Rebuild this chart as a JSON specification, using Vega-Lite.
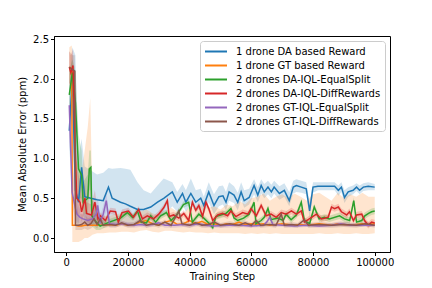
{
 "$schema": "https://vega.github.io/schema/vega-lite/v6.json",
 "width": 336, "height": 216,
 "autosize": {"type": "none"},
 "padding": {"left": 54, "top": 36, "right": 42, "bottom": 36},
 "config": {"font": "DejaVu Sans", "view": {"stroke": "black", "strokeWidth": 1},
  "axis": {"grid": false, "domainColor": "black", "tickColor": "black", "labelColor": "black", "titleColor": "black", "labelFontSize": 10, "titleFontSize": 10, "titleFontWeight": "normal", "tickSize": 3.5, "labelPadding": 2, "domainWidth": 1, "tickWidth": 1}},
 "data": {"values": [
{"series":"1 drone DA based Reward","step":1000,"mae":1.35,"lo":1.0,"hi":1.9},
{"series":"1 drone DA based Reward","step":2000,"mae":2.0,"lo":1.6,"hi":2.4},
{"series":"1 drone DA based Reward","step":3000,"mae":0.6,"lo":0.2,"hi":2.3},
{"series":"1 drone DA based Reward","step":4000,"mae":0.45,"lo":0.15,"hi":1.0},
{"series":"1 drone DA based Reward","step":5000,"mae":0.89,"lo":0.5,"hi":1.25},
{"series":"1 drone DA based Reward","step":6000,"mae":0.52,"lo":0.2,"hi":0.9},
{"series":"1 drone DA based Reward","step":8000,"mae":0.5,"lo":0.15,"hi":0.85},
{"series":"1 drone DA based Reward","step":10000,"mae":0.48,"lo":0.15,"hi":0.8},
{"series":"1 drone DA based Reward","step":12000,"mae":0.47,"lo":0.15,"hi":0.82},
{"series":"1 drone DA based Reward","step":13700,"mae":0.64,"lo":0.2,"hi":0.88},
{"series":"1 drone DA based Reward","step":14900,"mae":0.5,"lo":0.18,"hi":0.87},
{"series":"1 drone DA based Reward","step":17600,"mae":0.45,"lo":0.17,"hi":0.88},
{"series":"1 drone DA based Reward","step":19200,"mae":0.43,"lo":0.15,"hi":0.87},
{"series":"1 drone DA based Reward","step":20800,"mae":0.4,"lo":0.16,"hi":0.86},
{"series":"1 drone DA based Reward","step":23100,"mae":0.36,"lo":0.18,"hi":0.7},
{"series":"1 drone DA based Reward","step":25100,"mae":0.36,"lo":0.2,"hi":0.6},
{"series":"1 drone DA based Reward","step":27400,"mae":0.39,"lo":0.22,"hi":0.56},
{"series":"1 drone DA based Reward","step":29600,"mae":0.45,"lo":0.25,"hi":0.66},
{"series":"1 drone DA based Reward","step":31600,"mae":0.5,"lo":0.28,"hi":0.75},
{"series":"1 drone DA based Reward","step":34400,"mae":0.58,"lo":0.4,"hi":0.7},
{"series":"1 drone DA based Reward","step":36000,"mae":0.45,"lo":0.33,"hi":0.58},
{"series":"1 drone DA based Reward","step":37700,"mae":0.56,"lo":0.42,"hi":0.68},
{"series":"1 drone DA based Reward","step":38800,"mae":0.45,"lo":0.33,"hi":0.6},
{"series":"1 drone DA based Reward","step":40400,"mae":0.56,"lo":0.42,"hi":0.75},
{"series":"1 drone DA based Reward","step":42000,"mae":0.45,"lo":0.33,"hi":0.6},
{"series":"1 drone DA based Reward","step":43600,"mae":0.5,"lo":0.38,"hi":0.62},
{"series":"1 drone DA based Reward","step":44600,"mae":0.41,"lo":0.3,"hi":0.52},
{"series":"1 drone DA based Reward","step":46200,"mae":0.58,"lo":0.45,"hi":0.7},
{"series":"1 drone DA based Reward","step":47900,"mae":0.41,"lo":0.3,"hi":0.55},
{"series":"1 drone DA based Reward","step":49500,"mae":0.52,"lo":0.4,"hi":0.65},
{"series":"1 drone DA based Reward","step":50800,"mae":0.53,"lo":0.42,"hi":0.66},
{"series":"1 drone DA based Reward","step":51800,"mae":0.45,"lo":0.35,"hi":0.58},
{"series":"1 drone DA based Reward","step":52800,"mae":0.58,"lo":0.47,"hi":0.7},
{"series":"1 drone DA based Reward","step":54400,"mae":0.54,"lo":0.44,"hi":0.65},
{"series":"1 drone DA based Reward","step":55600,"mae":0.45,"lo":0.35,"hi":0.57},
{"series":"1 drone DA based Reward","step":56700,"mae":0.58,"lo":0.48,"hi":0.7},
{"series":"1 drone DA based Reward","step":57700,"mae":0.47,"lo":0.38,"hi":0.6},
{"series":"1 drone DA based Reward","step":59300,"mae":0.51,"lo":0.42,"hi":0.62},
{"series":"1 drone DA based Reward","step":60900,"mae":0.66,"lo":0.55,"hi":0.74},
{"series":"1 drone DA based Reward","step":62100,"mae":0.54,"lo":0.45,"hi":0.64},
{"series":"1 drone DA based Reward","step":63200,"mae":0.66,"lo":0.56,"hi":0.74},
{"series":"1 drone DA based Reward","step":64200,"mae":0.58,"lo":0.5,"hi":0.68},
{"series":"1 drone DA based Reward","step":65400,"mae":0.64,"lo":0.55,"hi":0.72},
{"series":"1 drone DA based Reward","step":66500,"mae":0.58,"lo":0.5,"hi":0.67},
{"series":"1 drone DA based Reward","step":67400,"mae":0.64,"lo":0.56,"hi":0.72},
{"series":"1 drone DA based Reward","step":69100,"mae":0.56,"lo":0.48,"hi":0.65},
{"series":"1 drone DA based Reward","step":70700,"mae":0.6,"lo":0.52,"hi":0.69},
{"series":"1 drone DA based Reward","step":72300,"mae":0.47,"lo":0.4,"hi":0.58},
{"series":"1 drone DA based Reward","step":73600,"mae":0.64,"lo":0.56,"hi":0.72},
{"series":"1 drone DA based Reward","step":74600,"mae":0.66,"lo":0.58,"hi":0.74},
{"series":"1 drone DA based Reward","step":76200,"mae":0.64,"lo":0.57,"hi":0.72},
{"series":"1 drone DA based Reward","step":77800,"mae":0.62,"lo":0.55,"hi":0.7},
{"series":"1 drone DA based Reward","step":78900,"mae":0.34,"lo":0.25,"hi":0.45},
{"series":"1 drone DA based Reward","step":80000,"mae":0.64,"lo":0.57,"hi":0.7},
{"series":"1 drone DA based Reward","step":81600,"mae":0.65,"lo":0.6,"hi":0.7},
{"series":"1 drone DA based Reward","step":84000,"mae":0.65,"lo":0.6,"hi":0.7},
{"series":"1 drone DA based Reward","step":87000,"mae":0.65,"lo":0.6,"hi":0.7},
{"series":"1 drone DA based Reward","step":88200,"mae":0.6,"lo":0.53,"hi":0.66},
{"series":"1 drone DA based Reward","step":89200,"mae":0.64,"lo":0.58,"hi":0.7},
{"series":"1 drone DA based Reward","step":90200,"mae":0.51,"lo":0.44,"hi":0.6},
{"series":"1 drone DA based Reward","step":91400,"mae":0.58,"lo":0.52,"hi":0.64},
{"series":"1 drone DA based Reward","step":93000,"mae":0.6,"lo":0.55,"hi":0.66},
{"series":"1 drone DA based Reward","step":94100,"mae":0.64,"lo":0.59,"hi":0.69},
{"series":"1 drone DA based Reward","step":95100,"mae":0.6,"lo":0.55,"hi":0.66},
{"series":"1 drone DA based Reward","step":96300,"mae":0.64,"lo":0.59,"hi":0.69},
{"series":"1 drone DA based Reward","step":97900,"mae":0.65,"lo":0.6,"hi":0.7},
{"series":"1 drone DA based Reward","step":100000,"mae":0.64,"lo":0.6,"hi":0.68},
{"series":"1 drone GT based Reward","step":1000,"mae":2.15,"lo":1.95,"hi":2.4},
{"series":"1 drone GT based Reward","step":1800,"mae":2.13,"lo":1.8,"hi":2.42},
{"series":"1 drone GT based Reward","step":2000,"mae":0.16,"lo":-0.05,"hi":2.3},
{"series":"1 drone GT based Reward","step":3000,"mae":0.16,"lo":-0.05,"hi":1.0},
{"series":"1 drone GT based Reward","step":4000,"mae":0.15,"lo":-0.05,"hi":0.9},
{"series":"1 drone GT based Reward","step":5000,"mae":0.15,"lo":-0.03,"hi":0.8},
{"series":"1 drone GT based Reward","step":6000,"mae":0.16,"lo":0.0,"hi":1.1},
{"series":"1 drone GT based Reward","step":7000,"mae":0.16,"lo":0.0,"hi":1.4},
{"series":"1 drone GT based Reward","step":7800,"mae":0.16,"lo":0.02,"hi":1.76},
{"series":"1 drone GT based Reward","step":8500,"mae":0.16,"lo":0.04,"hi":0.5},
{"series":"1 drone GT based Reward","step":10000,"mae":0.16,"lo":0.06,"hi":0.32},
{"series":"1 drone GT based Reward","step":12000,"mae":0.16,"lo":0.06,"hi":0.28},
{"series":"1 drone GT based Reward","step":14000,"mae":0.17,"lo":0.07,"hi":0.28},
{"series":"1 drone GT based Reward","step":16000,"mae":0.16,"lo":0.07,"hi":0.3},
{"series":"1 drone GT based Reward","step":18000,"mae":0.18,"lo":0.08,"hi":0.31},
{"series":"1 drone GT based Reward","step":20000,"mae":0.16,"lo":0.08,"hi":0.33},
{"series":"1 drone GT based Reward","step":22000,"mae":0.17,"lo":0.07,"hi":0.28},
{"series":"1 drone GT based Reward","step":24000,"mae":0.2,"lo":0.09,"hi":0.33},
{"series":"1 drone GT based Reward","step":26000,"mae":0.22,"lo":0.1,"hi":0.36},
{"series":"1 drone GT based Reward","step":28000,"mae":0.18,"lo":0.08,"hi":0.31},
{"series":"1 drone GT based Reward","step":30000,"mae":0.16,"lo":0.07,"hi":0.28},
{"series":"1 drone GT based Reward","step":32000,"mae":0.2,"lo":0.09,"hi":0.33},
{"series":"1 drone GT based Reward","step":34000,"mae":0.22,"lo":0.09,"hi":0.38},
{"series":"1 drone GT based Reward","step":36000,"mae":0.17,"lo":0.08,"hi":0.33},
{"series":"1 drone GT based Reward","step":38000,"mae":0.18,"lo":0.07,"hi":0.3},
{"series":"1 drone GT based Reward","step":40000,"mae":0.22,"lo":0.08,"hi":0.4},
{"series":"1 drone GT based Reward","step":42000,"mae":0.18,"lo":0.07,"hi":0.36},
{"series":"1 drone GT based Reward","step":44000,"mae":0.21,"lo":0.07,"hi":0.42},
{"series":"1 drone GT based Reward","step":46000,"mae":0.17,"lo":0.06,"hi":0.38},
{"series":"1 drone GT based Reward","step":48000,"mae":0.18,"lo":0.07,"hi":0.4},
{"series":"1 drone GT based Reward","step":50000,"mae":0.16,"lo":0.06,"hi":0.36},
{"series":"1 drone GT based Reward","step":52000,"mae":0.18,"lo":0.06,"hi":0.42},
{"series":"1 drone GT based Reward","step":54000,"mae":0.17,"lo":0.06,"hi":0.4},
{"series":"1 drone GT based Reward","step":56000,"mae":0.2,"lo":0.06,"hi":0.47},
{"series":"1 drone GT based Reward","step":58000,"mae":0.17,"lo":0.05,"hi":0.42},
{"series":"1 drone GT based Reward","step":60000,"mae":0.18,"lo":0.06,"hi":0.5},
{"series":"1 drone GT based Reward","step":62000,"mae":0.17,"lo":0.05,"hi":0.52},
{"series":"1 drone GT based Reward","step":64000,"mae":0.18,"lo":0.06,"hi":0.56},
{"series":"1 drone GT based Reward","step":66000,"mae":0.16,"lo":0.05,"hi":0.47},
{"series":"1 drone GT based Reward","step":68000,"mae":0.17,"lo":0.06,"hi":0.52},
{"series":"1 drone GT based Reward","step":70000,"mae":0.18,"lo":0.05,"hi":0.55},
{"series":"1 drone GT based Reward","step":72000,"mae":0.17,"lo":0.05,"hi":0.5},
{"series":"1 drone GT based Reward","step":74000,"mae":0.16,"lo":0.05,"hi":0.56},
{"series":"1 drone GT based Reward","step":76000,"mae":0.17,"lo":0.05,"hi":0.52},
{"series":"1 drone GT based Reward","step":78000,"mae":0.16,"lo":0.05,"hi":0.47},
{"series":"1 drone GT based Reward","step":80000,"mae":0.17,"lo":0.05,"hi":0.55},
{"series":"1 drone GT based Reward","step":82000,"mae":0.18,"lo":0.06,"hi":0.57},
{"series":"1 drone GT based Reward","step":84000,"mae":0.17,"lo":0.05,"hi":0.52},
{"series":"1 drone GT based Reward","step":86000,"mae":0.16,"lo":0.05,"hi":0.47},
{"series":"1 drone GT based Reward","step":88000,"mae":0.18,"lo":0.06,"hi":0.57},
{"series":"1 drone GT based Reward","step":90000,"mae":0.17,"lo":0.05,"hi":0.5},
{"series":"1 drone GT based Reward","step":92000,"mae":0.16,"lo":0.05,"hi":0.55},
{"series":"1 drone GT based Reward","step":94000,"mae":0.17,"lo":0.06,"hi":0.52},
{"series":"1 drone GT based Reward","step":96000,"mae":0.18,"lo":0.05,"hi":0.57},
{"series":"1 drone GT based Reward","step":98000,"mae":0.17,"lo":0.05,"hi":0.52},
{"series":"1 drone GT based Reward","step":100000,"mae":0.18,"lo":0.06,"hi":0.52},
{"series":"2 drones DA-IQL-EqualSplit","step":1000,"mae":1.8,"lo":1.5,"hi":2.1},
{"series":"2 drones DA-IQL-EqualSplit","step":2000,"mae":2.08,"lo":1.9,"hi":2.25},
{"series":"2 drones DA-IQL-EqualSplit","step":3000,"mae":1.7,"lo":1.3,"hi":2.1},
{"series":"2 drones DA-IQL-EqualSplit","step":4000,"mae":0.87,"lo":0.5,"hi":1.3},
{"series":"2 drones DA-IQL-EqualSplit","step":5000,"mae":0.79,"lo":0.5,"hi":1.1},
{"series":"2 drones DA-IQL-EqualSplit","step":5500,"mae":0.45,"lo":0.3,"hi":0.7},
{"series":"2 drones DA-IQL-EqualSplit","step":7000,"mae":0.5,"lo":0.3,"hi":0.8},
{"series":"2 drones DA-IQL-EqualSplit","step":7500,"mae":0.87,"lo":0.6,"hi":1.1},
{"series":"2 drones DA-IQL-EqualSplit","step":8000,"mae":0.89,"lo":0.6,"hi":1.1},
{"series":"2 drones DA-IQL-EqualSplit","step":8300,"mae":0.28,"lo":0.15,"hi":0.5},
{"series":"2 drones DA-IQL-EqualSplit","step":9700,"mae":0.2,"lo":0.1,"hi":0.35},
{"series":"2 drones DA-IQL-EqualSplit","step":11000,"mae":0.15,"lo":0.1,"hi":0.22},
{"series":"2 drones DA-IQL-EqualSplit","step":14000,"mae":0.2,"lo":0.16,"hi":0.24},
{"series":"2 drones DA-IQL-EqualSplit","step":17600,"mae":0.25,"lo":0.21,"hi":0.29},
{"series":"2 drones DA-IQL-EqualSplit","step":19800,"mae":0.32,"lo":0.28,"hi":0.36},
{"series":"2 drones DA-IQL-EqualSplit","step":21500,"mae":0.26,"lo":0.22,"hi":0.3},
{"series":"2 drones DA-IQL-EqualSplit","step":23100,"mae":0.34,"lo":0.3,"hi":0.38},
{"series":"2 drones DA-IQL-EqualSplit","step":24300,"mae":0.2,"lo":0.16,"hi":0.24},
{"series":"2 drones DA-IQL-EqualSplit","step":26000,"mae":0.19,"lo":0.15,"hi":0.23},
{"series":"2 drones DA-IQL-EqualSplit","step":27400,"mae":0.28,"lo":0.24,"hi":0.32},
{"series":"2 drones DA-IQL-EqualSplit","step":29000,"mae":0.2,"lo":0.16,"hi":0.24},
{"series":"2 drones DA-IQL-EqualSplit","step":30600,"mae":0.28,"lo":0.24,"hi":0.32},
{"series":"2 drones DA-IQL-EqualSplit","step":32500,"mae":0.32,"lo":0.28,"hi":0.36},
{"series":"2 drones DA-IQL-EqualSplit","step":34000,"mae":0.22,"lo":0.18,"hi":0.26},
{"series":"2 drones DA-IQL-EqualSplit","step":36000,"mae":0.3,"lo":0.26,"hi":0.34},
{"series":"2 drones DA-IQL-EqualSplit","step":38000,"mae":0.42,"lo":0.38,"hi":0.46},
{"series":"2 drones DA-IQL-EqualSplit","step":39700,"mae":0.45,"lo":0.41,"hi":0.49},
{"series":"2 drones DA-IQL-EqualSplit","step":40900,"mae":0.2,"lo":0.16,"hi":0.24},
{"series":"2 drones DA-IQL-EqualSplit","step":43000,"mae":0.3,"lo":0.26,"hi":0.34},
{"series":"2 drones DA-IQL-EqualSplit","step":44600,"mae":0.25,"lo":0.21,"hi":0.29},
{"series":"2 drones DA-IQL-EqualSplit","step":46200,"mae":0.19,"lo":0.15,"hi":0.23},
{"series":"2 drones DA-IQL-EqualSplit","step":47500,"mae":0.13,"lo":0.1,"hi":0.17},
{"series":"2 drones DA-IQL-EqualSplit","step":48500,"mae":0.27,"lo":0.23,"hi":0.31},
{"series":"2 drones DA-IQL-EqualSplit","step":51800,"mae":0.31,"lo":0.27,"hi":0.35},
{"series":"2 drones DA-IQL-EqualSplit","step":53400,"mae":0.37,"lo":0.33,"hi":0.41},
{"series":"2 drones DA-IQL-EqualSplit","step":54400,"mae":0.25,"lo":0.21,"hi":0.29},
{"series":"2 drones DA-IQL-EqualSplit","step":55600,"mae":0.22,"lo":0.18,"hi":0.26},
{"series":"2 drones DA-IQL-EqualSplit","step":57500,"mae":0.25,"lo":0.21,"hi":0.29},
{"series":"2 drones DA-IQL-EqualSplit","step":59300,"mae":0.3,"lo":0.26,"hi":0.34},
{"series":"2 drones DA-IQL-EqualSplit","step":60900,"mae":0.45,"lo":0.41,"hi":0.49},
{"series":"2 drones DA-IQL-EqualSplit","step":61500,"mae":0.18,"lo":0.14,"hi":0.22},
{"series":"2 drones DA-IQL-EqualSplit","step":63200,"mae":0.22,"lo":0.18,"hi":0.26},
{"series":"2 drones DA-IQL-EqualSplit","step":64200,"mae":0.26,"lo":0.22,"hi":0.3},
{"series":"2 drones DA-IQL-EqualSplit","step":65400,"mae":0.37,"lo":0.33,"hi":0.41},
{"series":"2 drones DA-IQL-EqualSplit","step":66400,"mae":0.23,"lo":0.19,"hi":0.27},
{"series":"2 drones DA-IQL-EqualSplit","step":68600,"mae":0.25,"lo":0.21,"hi":0.29},
{"series":"2 drones DA-IQL-EqualSplit","step":70300,"mae":0.22,"lo":0.18,"hi":0.26},
{"series":"2 drones DA-IQL-EqualSplit","step":71300,"mae":0.3,"lo":0.26,"hi":0.34},
{"series":"2 drones DA-IQL-EqualSplit","step":72900,"mae":0.23,"lo":0.19,"hi":0.27},
{"series":"2 drones DA-IQL-EqualSplit","step":74600,"mae":0.29,"lo":0.25,"hi":0.33},
{"series":"2 drones DA-IQL-EqualSplit","step":76200,"mae":0.45,"lo":0.41,"hi":0.49},
{"series":"2 drones DA-IQL-EqualSplit","step":77200,"mae":0.22,"lo":0.18,"hi":0.26},
{"series":"2 drones DA-IQL-EqualSplit","step":78900,"mae":0.18,"lo":0.14,"hi":0.22},
{"series":"2 drones DA-IQL-EqualSplit","step":80400,"mae":0.39,"lo":0.35,"hi":0.43},
{"series":"2 drones DA-IQL-EqualSplit","step":82000,"mae":0.24,"lo":0.2,"hi":0.28},
{"series":"2 drones DA-IQL-EqualSplit","step":83700,"mae":0.26,"lo":0.22,"hi":0.3},
{"series":"2 drones DA-IQL-EqualSplit","step":85300,"mae":0.24,"lo":0.2,"hi":0.28},
{"series":"2 drones DA-IQL-EqualSplit","step":88600,"mae":0.28,"lo":0.24,"hi":0.32},
{"series":"2 drones DA-IQL-EqualSplit","step":90200,"mae":0.24,"lo":0.2,"hi":0.28},
{"series":"2 drones DA-IQL-EqualSplit","step":91900,"mae":0.22,"lo":0.18,"hi":0.26},
{"series":"2 drones DA-IQL-EqualSplit","step":93200,"mae":0.47,"lo":0.43,"hi":0.51},
{"series":"2 drones DA-IQL-EqualSplit","step":94100,"mae":0.2,"lo":0.16,"hi":0.24},
{"series":"2 drones DA-IQL-EqualSplit","step":95800,"mae":0.22,"lo":0.18,"hi":0.26},
{"series":"2 drones DA-IQL-EqualSplit","step":96800,"mae":0.28,"lo":0.24,"hi":0.32},
{"series":"2 drones DA-IQL-EqualSplit","step":98000,"mae":0.31,"lo":0.27,"hi":0.35},
{"series":"2 drones DA-IQL-EqualSplit","step":99000,"mae":0.33,"lo":0.29,"hi":0.37},
{"series":"2 drones DA-IQL-EqualSplit","step":100000,"mae":0.34,"lo":0.3,"hi":0.38},
{"series":"2 drones DA-IQL-DiffRewards","step":1000,"mae":2.15,"lo":1.95,"hi":2.35},
{"series":"2 drones DA-IQL-DiffRewards","step":1500,"mae":2.08,"lo":1.85,"hi":2.3},
{"series":"2 drones DA-IQL-DiffRewards","step":2200,"mae":2.17,"lo":1.95,"hi":2.38},
{"series":"2 drones DA-IQL-DiffRewards","step":3400,"mae":0.5,"lo":0.3,"hi":0.9},
{"series":"2 drones DA-IQL-DiffRewards","step":4500,"mae":0.45,"lo":0.3,"hi":0.7},
{"series":"2 drones DA-IQL-DiffRewards","step":5000,"mae":0.33,"lo":0.2,"hi":0.5},
{"series":"2 drones DA-IQL-DiffRewards","step":6100,"mae":0.5,"lo":0.32,"hi":0.7},
{"series":"2 drones DA-IQL-DiffRewards","step":6600,"mae":0.31,"lo":0.2,"hi":0.45},
{"series":"2 drones DA-IQL-DiffRewards","step":8200,"mae":0.29,"lo":0.18,"hi":0.42},
{"series":"2 drones DA-IQL-DiffRewards","step":9300,"mae":0.45,"lo":0.3,"hi":0.6},
{"series":"2 drones DA-IQL-DiffRewards","step":10300,"mae":0.24,"lo":0.17,"hi":0.31},
{"series":"2 drones DA-IQL-DiffRewards","step":11100,"mae":0.28,"lo":0.24,"hi":0.32},
{"series":"2 drones DA-IQL-DiffRewards","step":12700,"mae":0.22,"lo":0.18,"hi":0.26},
{"series":"2 drones DA-IQL-DiffRewards","step":14300,"mae":0.34,"lo":0.3,"hi":0.38},
{"series":"2 drones DA-IQL-DiffRewards","step":16000,"mae":0.33,"lo":0.29,"hi":0.37},
{"series":"2 drones DA-IQL-DiffRewards","step":16900,"mae":0.2,"lo":0.16,"hi":0.24},
{"series":"2 drones DA-IQL-DiffRewards","step":18100,"mae":0.32,"lo":0.28,"hi":0.36},
{"series":"2 drones DA-IQL-DiffRewards","step":20200,"mae":0.34,"lo":0.3,"hi":0.38},
{"series":"2 drones DA-IQL-DiffRewards","step":21800,"mae":0.26,"lo":0.22,"hi":0.3},
{"series":"2 drones DA-IQL-DiffRewards","step":23500,"mae":0.36,"lo":0.32,"hi":0.4},
{"series":"2 drones DA-IQL-DiffRewards","step":24700,"mae":0.24,"lo":0.2,"hi":0.28},
{"series":"2 drones DA-IQL-DiffRewards","step":26300,"mae":0.28,"lo":0.24,"hi":0.32},
{"series":"2 drones DA-IQL-DiffRewards","step":28300,"mae":0.24,"lo":0.2,"hi":0.28},
{"series":"2 drones DA-IQL-DiffRewards","step":30000,"mae":0.3,"lo":0.26,"hi":0.34},
{"series":"2 drones DA-IQL-DiffRewards","step":31600,"mae":0.38,"lo":0.34,"hi":0.42},
{"series":"2 drones DA-IQL-DiffRewards","step":32800,"mae":0.47,"lo":0.43,"hi":0.51},
{"series":"2 drones DA-IQL-DiffRewards","step":33400,"mae":0.27,"lo":0.23,"hi":0.31},
{"series":"2 drones DA-IQL-DiffRewards","step":34800,"mae":0.29,"lo":0.25,"hi":0.33},
{"series":"2 drones DA-IQL-DiffRewards","step":36500,"mae":0.25,"lo":0.21,"hi":0.29},
{"series":"2 drones DA-IQL-DiffRewards","step":38100,"mae":0.31,"lo":0.27,"hi":0.35},
{"series":"2 drones DA-IQL-DiffRewards","step":39700,"mae":0.22,"lo":0.18,"hi":0.26},
{"series":"2 drones DA-IQL-DiffRewards","step":40900,"mae":0.45,"lo":0.41,"hi":0.49},
{"series":"2 drones DA-IQL-DiffRewards","step":42000,"mae":0.35,"lo":0.31,"hi":0.39},
{"series":"2 drones DA-IQL-DiffRewards","step":43000,"mae":0.41,"lo":0.37,"hi":0.45},
{"series":"2 drones DA-IQL-DiffRewards","step":44200,"mae":0.27,"lo":0.23,"hi":0.31},
{"series":"2 drones DA-IQL-DiffRewards","step":45300,"mae":0.45,"lo":0.41,"hi":0.49},
{"series":"2 drones DA-IQL-DiffRewards","step":46200,"mae":0.37,"lo":0.33,"hi":0.41},
{"series":"2 drones DA-IQL-DiffRewards","step":47500,"mae":0.22,"lo":0.18,"hi":0.26},
{"series":"2 drones DA-IQL-DiffRewards","step":49100,"mae":0.29,"lo":0.25,"hi":0.33},
{"series":"2 drones DA-IQL-DiffRewards","step":50700,"mae":0.31,"lo":0.27,"hi":0.35},
{"series":"2 drones DA-IQL-DiffRewards","step":52300,"mae":0.28,"lo":0.24,"hi":0.32},
{"series":"2 drones DA-IQL-DiffRewards","step":53400,"mae":0.34,"lo":0.3,"hi":0.38},
{"series":"2 drones DA-IQL-DiffRewards","step":55000,"mae":0.27,"lo":0.23,"hi":0.31},
{"series":"2 drones DA-IQL-DiffRewards","step":57200,"mae":0.32,"lo":0.28,"hi":0.36},
{"series":"2 drones DA-IQL-DiffRewards","step":58900,"mae":0.3,"lo":0.26,"hi":0.34},
{"series":"2 drones DA-IQL-DiffRewards","step":59900,"mae":0.37,"lo":0.33,"hi":0.41},
{"series":"2 drones DA-IQL-DiffRewards","step":61600,"mae":0.28,"lo":0.24,"hi":0.32},
{"series":"2 drones DA-IQL-DiffRewards","step":63200,"mae":0.41,"lo":0.37,"hi":0.45},
{"series":"2 drones DA-IQL-DiffRewards","step":64800,"mae":0.28,"lo":0.24,"hi":0.32},
{"series":"2 drones DA-IQL-DiffRewards","step":66400,"mae":0.3,"lo":0.26,"hi":0.34},
{"series":"2 drones DA-IQL-DiffRewards","step":68100,"mae":0.26,"lo":0.22,"hi":0.3},
{"series":"2 drones DA-IQL-DiffRewards","step":69700,"mae":0.32,"lo":0.28,"hi":0.36},
{"series":"2 drones DA-IQL-DiffRewards","step":71300,"mae":0.3,"lo":0.26,"hi":0.34},
{"series":"2 drones DA-IQL-DiffRewards","step":73000,"mae":0.34,"lo":0.3,"hi":0.38},
{"series":"2 drones DA-IQL-DiffRewards","step":74600,"mae":0.3,"lo":0.26,"hi":0.34},
{"series":"2 drones DA-IQL-DiffRewards","step":76200,"mae":0.34,"lo":0.3,"hi":0.38},
{"series":"2 drones DA-IQL-DiffRewards","step":77200,"mae":0.2,"lo":0.16,"hi":0.24},
{"series":"2 drones DA-IQL-DiffRewards","step":78800,"mae":0.24,"lo":0.2,"hi":0.28},
{"series":"2 drones DA-IQL-DiffRewards","step":81100,"mae":0.3,"lo":0.26,"hi":0.34},
{"series":"2 drones DA-IQL-DiffRewards","step":82700,"mae":0.24,"lo":0.2,"hi":0.28},
{"series":"2 drones DA-IQL-DiffRewards","step":84900,"mae":0.26,"lo":0.22,"hi":0.3},
{"series":"2 drones DA-IQL-DiffRewards","step":86000,"mae":0.39,"lo":0.35,"hi":0.43},
{"series":"2 drones DA-IQL-DiffRewards","step":87000,"mae":0.37,"lo":0.33,"hi":0.41},
{"series":"2 drones DA-IQL-DiffRewards","step":88200,"mae":0.39,"lo":0.35,"hi":0.43},
{"series":"2 drones DA-IQL-DiffRewards","step":89200,"mae":0.33,"lo":0.29,"hi":0.37},
{"series":"2 drones DA-IQL-DiffRewards","step":90900,"mae":0.29,"lo":0.25,"hi":0.33},
{"series":"2 drones DA-IQL-DiffRewards","step":91800,"mae":0.33,"lo":0.29,"hi":0.37},
{"series":"2 drones DA-IQL-DiffRewards","step":93100,"mae":0.22,"lo":0.18,"hi":0.26},
{"series":"2 drones DA-IQL-DiffRewards","step":94100,"mae":0.29,"lo":0.25,"hi":0.33},
{"series":"2 drones DA-IQL-DiffRewards","step":95800,"mae":0.3,"lo":0.26,"hi":0.34},
{"series":"2 drones DA-IQL-DiffRewards","step":96700,"mae":0.22,"lo":0.18,"hi":0.26},
{"series":"2 drones DA-IQL-DiffRewards","step":97900,"mae":0.16,"lo":0.12,"hi":0.2},
{"series":"2 drones DA-IQL-DiffRewards","step":99000,"mae":0.2,"lo":0.16,"hi":0.24},
{"series":"2 drones DA-IQL-DiffRewards","step":100000,"mae":0.19,"lo":0.15,"hi":0.23},
{"series":"2 drones GT-IQL-EqualSplit","step":1000,"mae":1.67,"lo":1.4,"hi":1.95},
{"series":"2 drones GT-IQL-EqualSplit","step":1900,"mae":0.58,"lo":0.4,"hi":1.0},
{"series":"2 drones GT-IQL-EqualSplit","step":3000,"mae":0.37,"lo":0.25,"hi":0.55},
{"series":"2 drones GT-IQL-EqualSplit","step":3500,"mae":0.3,"lo":0.2,"hi":0.45},
{"series":"2 drones GT-IQL-EqualSplit","step":4500,"mae":0.26,"lo":0.18,"hi":0.36},
{"series":"2 drones GT-IQL-EqualSplit","step":5500,"mae":0.24,"lo":0.17,"hi":0.32},
{"series":"2 drones GT-IQL-EqualSplit","step":7000,"mae":0.22,"lo":0.15,"hi":0.3},
{"series":"2 drones GT-IQL-EqualSplit","step":8500,"mae":0.24,"lo":0.16,"hi":0.32},
{"series":"2 drones GT-IQL-EqualSplit","step":9700,"mae":0.3,"lo":0.2,"hi":0.4},
{"series":"2 drones GT-IQL-EqualSplit","step":10200,"mae":0.41,"lo":0.28,"hi":0.52},
{"series":"2 drones GT-IQL-EqualSplit","step":11000,"mae":0.2,"lo":0.14,"hi":0.28},
{"series":"2 drones GT-IQL-EqualSplit","step":12000,"mae":0.3,"lo":0.2,"hi":0.4},
{"series":"2 drones GT-IQL-EqualSplit","step":13000,"mae":0.47,"lo":0.34,"hi":0.58},
{"series":"2 drones GT-IQL-EqualSplit","step":14000,"mae":0.18,"lo":0.13,"hi":0.24},
{"series":"2 drones GT-IQL-EqualSplit","step":16000,"mae":0.17,"lo":0.14,"hi":0.2},
{"series":"2 drones GT-IQL-EqualSplit","step":18000,"mae":0.18,"lo":0.15,"hi":0.21},
{"series":"2 drones GT-IQL-EqualSplit","step":20000,"mae":0.17,"lo":0.14,"hi":0.2},
{"series":"2 drones GT-IQL-EqualSplit","step":22000,"mae":0.16,"lo":0.13,"hi":0.19},
{"series":"2 drones GT-IQL-EqualSplit","step":24000,"mae":0.17,"lo":0.14,"hi":0.2},
{"series":"2 drones GT-IQL-EqualSplit","step":26000,"mae":0.16,"lo":0.13,"hi":0.19},
{"series":"2 drones GT-IQL-EqualSplit","step":28000,"mae":0.17,"lo":0.14,"hi":0.2},
{"series":"2 drones GT-IQL-EqualSplit","step":30000,"mae":0.19,"lo":0.16,"hi":0.22},
{"series":"2 drones GT-IQL-EqualSplit","step":32000,"mae":0.16,"lo":0.13,"hi":0.19},
{"series":"2 drones GT-IQL-EqualSplit","step":35000,"mae":0.16,"lo":0.13,"hi":0.19},
{"series":"2 drones GT-IQL-EqualSplit","step":38000,"mae":0.17,"lo":0.14,"hi":0.2},
{"series":"2 drones GT-IQL-EqualSplit","step":40000,"mae":0.16,"lo":0.13,"hi":0.19},
{"series":"2 drones GT-IQL-EqualSplit","step":43000,"mae":0.18,"lo":0.15,"hi":0.21},
{"series":"2 drones GT-IQL-EqualSplit","step":45000,"mae":0.16,"lo":0.13,"hi":0.19},
{"series":"2 drones GT-IQL-EqualSplit","step":48000,"mae":0.15,"lo":0.13,"hi":0.18},
{"series":"2 drones GT-IQL-EqualSplit","step":52000,"mae":0.16,"lo":0.13,"hi":0.19},
{"series":"2 drones GT-IQL-EqualSplit","step":56000,"mae":0.16,"lo":0.14,"hi":0.19},
{"series":"2 drones GT-IQL-EqualSplit","step":60000,"mae":0.15,"lo":0.13,"hi":0.18},
{"series":"2 drones GT-IQL-EqualSplit","step":64000,"mae":0.16,"lo":0.14,"hi":0.19},
{"series":"2 drones GT-IQL-EqualSplit","step":65000,"mae":0.2,"lo":0.17,"hi":0.23},
{"series":"2 drones GT-IQL-EqualSplit","step":66000,"mae":0.26,"lo":0.22,"hi":0.3},
{"series":"2 drones GT-IQL-EqualSplit","step":67000,"mae":0.17,"lo":0.14,"hi":0.2},
{"series":"2 drones GT-IQL-EqualSplit","step":70000,"mae":0.16,"lo":0.14,"hi":0.19},
{"series":"2 drones GT-IQL-EqualSplit","step":74000,"mae":0.15,"lo":0.13,"hi":0.18},
{"series":"2 drones GT-IQL-EqualSplit","step":78000,"mae":0.16,"lo":0.14,"hi":0.19},
{"series":"2 drones GT-IQL-EqualSplit","step":82000,"mae":0.15,"lo":0.13,"hi":0.18},
{"series":"2 drones GT-IQL-EqualSplit","step":86000,"mae":0.16,"lo":0.14,"hi":0.19},
{"series":"2 drones GT-IQL-EqualSplit","step":89000,"mae":0.18,"lo":0.15,"hi":0.21},
{"series":"2 drones GT-IQL-EqualSplit","step":92000,"mae":0.16,"lo":0.14,"hi":0.19},
{"series":"2 drones GT-IQL-EqualSplit","step":96000,"mae":0.16,"lo":0.14,"hi":0.19},
{"series":"2 drones GT-IQL-EqualSplit","step":100000,"mae":0.16,"lo":0.14,"hi":0.18},
{"series":"2 drones GT-IQL-DiffRewards","step":1000,"mae":2.15,"lo":1.95,"hi":2.35},
{"series":"2 drones GT-IQL-DiffRewards","step":2000,"mae":2.12,"lo":1.9,"hi":2.3},
{"series":"2 drones GT-IQL-DiffRewards","step":2800,"mae":2.1,"lo":1.85,"hi":2.3},
{"series":"2 drones GT-IQL-DiffRewards","step":3000,"mae":0.16,"lo":0.1,"hi":0.5},
{"series":"2 drones GT-IQL-DiffRewards","step":4000,"mae":0.16,"lo":0.1,"hi":0.3},
{"series":"2 drones GT-IQL-DiffRewards","step":5000,"mae":0.17,"lo":0.1,"hi":0.3},
{"series":"2 drones GT-IQL-DiffRewards","step":6000,"mae":0.2,"lo":0.12,"hi":0.3},
{"series":"2 drones GT-IQL-DiffRewards","step":7000,"mae":0.16,"lo":0.1,"hi":0.25},
{"series":"2 drones GT-IQL-DiffRewards","step":8000,"mae":0.18,"lo":0.12,"hi":0.26},
{"series":"2 drones GT-IQL-DiffRewards","step":9000,"mae":0.24,"lo":0.15,"hi":0.34},
{"series":"2 drones GT-IQL-DiffRewards","step":10000,"mae":0.17,"lo":0.12,"hi":0.24},
{"series":"2 drones GT-IQL-DiffRewards","step":11000,"mae":0.24,"lo":0.18,"hi":0.3},
{"series":"2 drones GT-IQL-DiffRewards","step":12000,"mae":0.16,"lo":0.13,"hi":0.2},
{"series":"2 drones GT-IQL-DiffRewards","step":14000,"mae":0.17,"lo":0.14,"hi":0.2},
{"series":"2 drones GT-IQL-DiffRewards","step":16000,"mae":0.16,"lo":0.13,"hi":0.19},
{"series":"2 drones GT-IQL-DiffRewards","step":18000,"mae":0.19,"lo":0.16,"hi":0.22},
{"series":"2 drones GT-IQL-DiffRewards","step":20000,"mae":0.16,"lo":0.13,"hi":0.19},
{"series":"2 drones GT-IQL-DiffRewards","step":22000,"mae":0.17,"lo":0.14,"hi":0.2},
{"series":"2 drones GT-IQL-DiffRewards","step":24000,"mae":0.22,"lo":0.19,"hi":0.25},
{"series":"2 drones GT-IQL-DiffRewards","step":26000,"mae":0.16,"lo":0.13,"hi":0.19},
{"series":"2 drones GT-IQL-DiffRewards","step":28000,"mae":0.18,"lo":0.15,"hi":0.21},
{"series":"2 drones GT-IQL-DiffRewards","step":30000,"mae":0.16,"lo":0.13,"hi":0.19},
{"series":"2 drones GT-IQL-DiffRewards","step":32000,"mae":0.2,"lo":0.17,"hi":0.23},
{"series":"2 drones GT-IQL-DiffRewards","step":34000,"mae":0.16,"lo":0.13,"hi":0.19},
{"series":"2 drones GT-IQL-DiffRewards","step":36500,"mae":0.34,"lo":0.3,"hi":0.38},
{"series":"2 drones GT-IQL-DiffRewards","step":37500,"mae":0.18,"lo":0.15,"hi":0.21},
{"series":"2 drones GT-IQL-DiffRewards","step":40000,"mae":0.16,"lo":0.13,"hi":0.19},
{"series":"2 drones GT-IQL-DiffRewards","step":42000,"mae":0.19,"lo":0.16,"hi":0.22},
{"series":"2 drones GT-IQL-DiffRewards","step":44000,"mae":0.16,"lo":0.13,"hi":0.19},
{"series":"2 drones GT-IQL-DiffRewards","step":46000,"mae":0.17,"lo":0.14,"hi":0.2},
{"series":"2 drones GT-IQL-DiffRewards","step":48000,"mae":0.2,"lo":0.17,"hi":0.23},
{"series":"2 drones GT-IQL-DiffRewards","step":50000,"mae":0.16,"lo":0.13,"hi":0.19},
{"series":"2 drones GT-IQL-DiffRewards","step":53000,"mae":0.18,"lo":0.15,"hi":0.21},
{"series":"2 drones GT-IQL-DiffRewards","step":56000,"mae":0.16,"lo":0.13,"hi":0.19},
{"series":"2 drones GT-IQL-DiffRewards","step":58000,"mae":0.19,"lo":0.16,"hi":0.22},
{"series":"2 drones GT-IQL-DiffRewards","step":60000,"mae":0.16,"lo":0.13,"hi":0.19},
{"series":"2 drones GT-IQL-DiffRewards","step":61600,"mae":0.22,"lo":0.19,"hi":0.25},
{"series":"2 drones GT-IQL-DiffRewards","step":63000,"mae":0.16,"lo":0.13,"hi":0.19},
{"series":"2 drones GT-IQL-DiffRewards","step":66000,"mae":0.17,"lo":0.14,"hi":0.2},
{"series":"2 drones GT-IQL-DiffRewards","step":68000,"mae":0.16,"lo":0.13,"hi":0.19},
{"series":"2 drones GT-IQL-DiffRewards","step":69700,"mae":0.3,"lo":0.26,"hi":0.34},
{"series":"2 drones GT-IQL-DiffRewards","step":70700,"mae":0.16,"lo":0.13,"hi":0.19},
{"series":"2 drones GT-IQL-DiffRewards","step":73000,"mae":0.17,"lo":0.14,"hi":0.2},
{"series":"2 drones GT-IQL-DiffRewards","step":75000,"mae":0.16,"lo":0.13,"hi":0.19},
{"series":"2 drones GT-IQL-DiffRewards","step":77200,"mae":0.23,"lo":0.2,"hi":0.26},
{"series":"2 drones GT-IQL-DiffRewards","step":78500,"mae":0.16,"lo":0.13,"hi":0.19},
{"series":"2 drones GT-IQL-DiffRewards","step":82000,"mae":0.17,"lo":0.14,"hi":0.2},
{"series":"2 drones GT-IQL-DiffRewards","step":86000,"mae":0.16,"lo":0.13,"hi":0.19},
{"series":"2 drones GT-IQL-DiffRewards","step":90000,"mae":0.17,"lo":0.14,"hi":0.2},
{"series":"2 drones GT-IQL-DiffRewards","step":94000,"mae":0.16,"lo":0.13,"hi":0.19},
{"series":"2 drones GT-IQL-DiffRewards","step":97000,"mae":0.18,"lo":0.15,"hi":0.21},
{"series":"2 drones GT-IQL-DiffRewards","step":100000,"mae":0.16,"lo":0.13,"hi":0.19}
 ]},
 "encoding": {
  "x": {"field": "step", "type": "quantitative", "scale": {"domain": [-3950, 104950], "nice": false, "zero": false},
   "axis": {"title": "Training Step", "values": [0, 20000, 40000, 60000, 80000, 100000], "format": "d", "titlePadding": 4}},
  "color": {"field": "series", "type": "nominal",
   "scale": {"domain": ["1 drone DA based Reward", "1 drone GT based Reward", "2 drones DA-IQL-EqualSplit", "2 drones DA-IQL-DiffRewards", "2 drones GT-IQL-EqualSplit", "2 drones GT-IQL-DiffRewards"],
    "range": ["#1f77b4", "#ff7f0e", "#2ca02c", "#d62728", "#9467bd", "#8c564b"]},
   "legend": {"title": null, "orient": "top-right", "offset": 5, "symbolType": "M-1,0H3", "symbolSize": 121, "symbolStrokeWidth": 2, "symbolOpacity": 1, "symbolFillColor": "transparent", "labelFontSize": 10, "labelColor": "black", "labelOffset": 19, "rowPadding": 2, "padding": 4, "strokeColor": "#cccccc", "fillColor": "rgba(255,255,255,0.8)", "cornerRadius": 3, "labelLimit": 300}}
 },
 "layer": [
  {"mark": {"type": "area", "opacity": 0.2},
   "encoding": {
    "y": {"field": "lo", "type": "quantitative", "stack": null, "scale": {"domain": [-0.176, 2.541], "nice": false, "zero": false},
     "axis": {"title": "Mean Absolute Error (ppm)", "values": [0, 0.5, 1, 1.5, 2, 2.5], "format": ".1f", "titlePadding": 5}},
    "y2": {"field": "hi"}
   }},
  {"mark": {"type": "line", "strokeWidth": 1.5},
   "encoding": {
    "y": {"field": "mae", "type": "quantitative", "scale": {"domain": [-0.176, 2.541], "nice": false, "zero": false},
     "axis": {"title": "Mean Absolute Error (ppm)", "values": [0, 0.5, 1, 1.5, 2, 2.5], "format": ".1f", "titlePadding": 5}}
   }}
 ]
}
